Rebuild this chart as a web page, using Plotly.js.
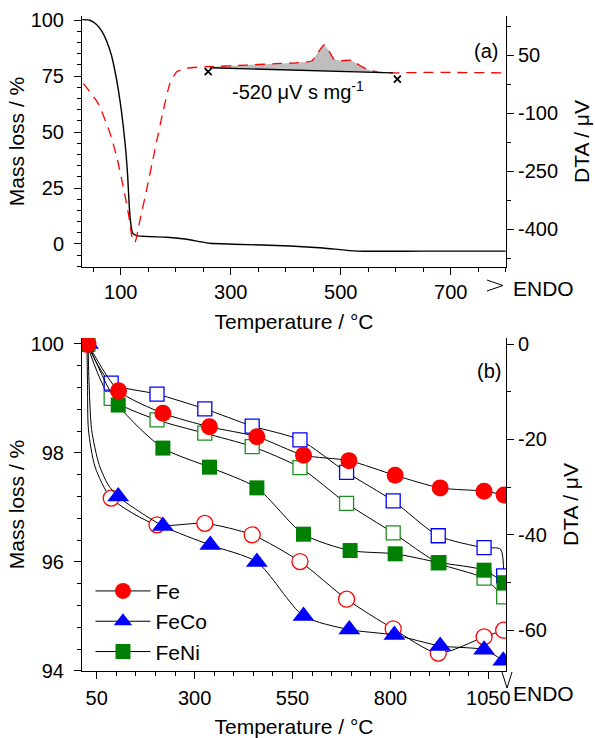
<!DOCTYPE html>
<html>
<head>
<meta charset="utf-8">
<script src="https://cdn.plot.ly/plotly-3.0.1.min.js"></script>
<style>html,body{margin:0;padding:0;background:#fff;}#chart{width:595px;height:738px;}</style>
</head>
<body>
<div id="chart"></div>
<script>
// ---------- Panel (a): TG / DTA ----------
const tgT    = [30, 44, 56, 65.5, 74.5, 83.6, 89.6, 95.6, 101.8, 106, 109.6, 112.7, 115.6, 118.2, 121.8, 129, 183.6, 220, 244, 262, 305, 408, 468, 530, 650, 800];
const tgMass = [100.3, 100, 98.1, 95.1, 90.6, 83.9, 77.2, 69, 58.5, 49.5, 40.6, 30.1, 16.7, 9.3, 4.8, 3.7, 3.0, 2.1, 1.0, 0.3, -0.1, -0.9, -1.8, -3.2, -3.2, -3.2];

const dtaT   = [32, 59, 80.5, 92.7, 104.7, 113.8, 121.8, 126, 135, 147, 162, 177.5, 189.6, 201.8, 220, 256, 263, 329, 390, 420, 447, 457.5, 469.6, 477.5, 487.8, 498.7, 517, 529, 538, 553, 571, 595, 650, 700, 800];
const dtaVal = [-23, -75, -152, -213, -291, -359, -428, -434, -377, -299, -196, -92, -23, 7, 16, 20, 20, 24, 28.5, 30, 34.5, 54, 76, 63, 39, 35, 37, 28.5, 20, 11, 5, 4, 5, 5, 4];

const baseT   = [263, 595];     // integration baseline
const baseDTA = [17, 4];
const crossT   = [259, 603];    // integration limits
const crossDTA = [7, -12];

const dtaTopTicks = [50, -100, -250, -400];

// ---------- Panel (b): mass loss (filled) and DTA (open) ----------
const feT      = [28, 106, 219, 338, 459, 578, 694, 812, 927, 1039, 1090];
const feMass   = [100, 99.14, 98.73, 98.48, 98.30, 97.96, 97.86, 97.59, 97.36, 97.30, 97.23];
const feCoT    = [28, 105, 219, 340, 459, 578, 695, 810, 927, 1039, 1088];
const feCoMass = [100, 97.20, 96.66, 96.31, 96.00, 95.01, 94.76, 94.66, 94.46, 94.39, 94.19];
const feNiT    = [28, 105, 219, 338, 459, 578, 697, 812, 924, 1039, 1090];
const feNiMass = [100, 98.88, 98.09, 97.74, 97.36, 96.51, 96.21, 96.15, 95.99, 95.85, 95.62];

const dtaBT    = [25, 87, 204, 326, 447, 569, 688, 807, 922, 1039, 1089];
const feDTA    = [0, -32.3, -37.9, -37.6, -40.0, -45.6, -53.5, -59.7, -64.8, -61.4, -60.0];
const feCoDTA  = [0, -8.2, -10.5, -13.6, -17.2, -20.1, -26.9, -32.9, -40.2, -42.7, -48.6];
const feNiDTA  = [0, -11.4, -15.9, -18.7, -21.5, -25.9, -33.4, -39.6, -45.9, -49.1, -53.0];

// extra points (steep start, sharp end)
const feCoMassStartT = [30, 37, 56, 79];
const feCoMassStartV = [99.4, 98.43, 97.79, 97.42];
const feDTAStartT    = [26.5, 29, 46];
const feDTAStartV    = [-7.5, -18, -25.8];
const feCoDTAEndT    = [1081];
const feCoDTAEndV    = [-43.0];

const dtaBTicks = [0, -20, -40, -60];

const legendNames = ['Fe', 'FeCo', 'FeNi'];

// ---------- helpers ----------
const FONT = '"Liberation Sans", Arial, Helvetica, sans-serif';
const RED = '#ff0000', BLUE = '#0000ff', GREEN = '#008000';
const TICK_SIZE = 20, TITLE_SIZE = 21;

function insertAfterFirst(arr, extra) { return [arr[0]].concat(extra, arr.slice(1)); }
function insertBeforeLast(arr, extra) { return arr.slice(0, -1).concat(extra, arr.slice(-1)); }

// gray integrated area: DTA curve between the limits, closed along the baseline
const fillX = [], fillY = [];
dtaT.forEach((t, i) => { if (t >= baseT[0] && t <= baseT[1]) { fillX.push(t); fillY.push(dtaVal[i]); } });
const fillXs = fillX.concat(baseT.slice().reverse());
const fillYs = fillY.concat(baseDTA.slice().reverse());

const curveLine = {color: 'black', width: 1, shape: 'spline', smoothing: 0.7};

const traces = [
  // panel (a)
  {x: tgT, y: tgMass, xaxis: 'x', yaxis: 'y', mode: 'lines', line: {color: 'black', width: 1.4, shape: 'spline', smoothing: 0.6}, showlegend: false, hoverinfo: 'skip'},
  {x: fillXs, y: fillYs, xaxis: 'x', yaxis: 'y2', mode: 'lines', fill: 'toself', fillcolor: '#bebebe', line: {width: 0}, showlegend: false, hoverinfo: 'skip'},
  {x: dtaT, y: dtaVal, xaxis: 'x', yaxis: 'y2', mode: 'lines', line: {color: RED, width: 1.3, dash: '10px,7px', shape: 'spline', smoothing: 0.5}, showlegend: false, hoverinfo: 'skip'},
  {x: baseT, y: baseDTA, xaxis: 'x', yaxis: 'y2', mode: 'lines', line: {color: 'black', width: 1.4}, showlegend: false, hoverinfo: 'skip'},
  {x: crossT, y: crossDTA, xaxis: 'x', yaxis: 'y2', mode: 'markers', marker: {symbol: 'x-thin', size: 7, line: {color: 'black', width: 1.8}}, showlegend: false, hoverinfo: 'skip'},

  // panel (b) DTA curves (right axis, y3)
  {x: insertAfterFirst(dtaBT, feDTAStartT), y: insertAfterFirst(feDTA, feDTAStartV), xaxis: 'x2', yaxis: 'y3', mode: 'lines', line: curveLine, showlegend: false, hoverinfo: 'skip'},
  {x: insertBeforeLast(dtaBT, feCoDTAEndT), y: insertBeforeLast(feCoDTA, feCoDTAEndV), xaxis: 'x2', yaxis: 'y3', mode: 'lines', line: curveLine, showlegend: false, hoverinfo: 'skip'},
  {x: dtaBT, y: feNiDTA, xaxis: 'x2', yaxis: 'y3', mode: 'lines', line: curveLine, showlegend: false, hoverinfo: 'skip'},
  {x: dtaBT, y: feNiDTA, xaxis: 'x2', yaxis: 'y3', mode: 'markers', marker: {symbol: 'square', size: 14, color: 'white', line: {color: '#1f8f1f', width: 1.3}}, showlegend: false},
  {x: dtaBT, y: feCoDTA, xaxis: 'x2', yaxis: 'y3', mode: 'markers', marker: {symbol: 'square', size: 14, color: 'white', line: {color: BLUE, width: 1.3}}, showlegend: false},
  {x: dtaBT, y: feDTA, xaxis: 'x2', yaxis: 'y3', mode: 'markers', marker: {symbol: 'circle', size: 16, color: 'white', line: {color: RED, width: 1.3}}, showlegend: false},

  // panel (b) mass curves (left axis, y4 overlaying)
  {x: feNiT, y: feNiMass, xaxis: 'x2', yaxis: 'y4', mode: 'lines', line: curveLine, showlegend: false, hoverinfo: 'skip'},
  {x: insertAfterFirst(feCoT, feCoMassStartT), y: insertAfterFirst(feCoMass, feCoMassStartV), xaxis: 'x2', yaxis: 'y4', mode: 'lines', line: curveLine, showlegend: false, hoverinfo: 'skip'},
  {x: feT, y: feMass, xaxis: 'x2', yaxis: 'y4', mode: 'lines', line: curveLine, showlegend: false, hoverinfo: 'skip'},
  {x: feNiT, y: feNiMass, xaxis: 'x2', yaxis: 'y4', mode: 'markers', marker: {symbol: 'square', size: 15, color: GREEN}, showlegend: false},
  {x: feCoT, y: feCoMass, xaxis: 'x2', yaxis: 'y4', mode: 'markers', marker: {symbol: 'triangle-up', size: 19, color: BLUE}, showlegend: false},
  {x: feT, y: feMass, xaxis: 'x2', yaxis: 'y4', mode: 'markers', marker: {symbol: 'circle', size: 17, color: RED}, showlegend: false},

  // legend entries
  {x: [null], y: [null], xaxis: 'x2', yaxis: 'y4', name: legendNames[0], mode: 'lines+markers', line: {color: 'black', width: 1}, marker: {symbol: 'circle', size: 17, color: RED}},
  {x: [null], y: [null], xaxis: 'x2', yaxis: 'y4', name: legendNames[1], mode: 'lines+markers', line: {color: 'black', width: 1}, marker: {symbol: 'triangle-up', size: 19, color: BLUE}},
  {x: [null], y: [null], xaxis: 'x2', yaxis: 'y4', name: legendNames[2], mode: 'lines+markers', line: {color: 'black', width: 1}, marker: {symbol: 'square', size: 15, color: GREEN}}
];

const axBase = {
  showline: true, linecolor: 'black', linewidth: 1, showgrid: false, zeroline: false,
  ticks: 'outside', ticklen: 7, tickwidth: 1, tickcolor: 'black',
  tickfont: {family: FONT, size: TICK_SIZE, color: 'black'}
};
function minor(d, t0) { const m = {dtick: d, ticks: 'outside', ticklen: 4, tickwidth: 1, tickcolor: 'black', showgrid: false}; if (t0 !== undefined) m.tick0 = t0; return m; }
function ttl(t, s) { return {text: t, font: {family: FONT, size: TITLE_SIZE, color: 'black'}, standoff: s}; }
const topTicks = {showline: true, linecolor: 'black', linewidth: 1, showgrid: false, zeroline: false, ticks: 'inside', ticklen: 4, tickcolor: 'black', tick0: 0, dtick: 50, showticklabels: false};

const TOPX = [29.6, 800.5], BOTX = [12.5, 1095];
const layout = {
  width: 595, height: 738,
  margin: {l: 82, r: 89, t: 16, b: 67},
  paper_bgcolor: 'white', plot_bgcolor: 'white',
  font: {family: FONT, size: TICK_SIZE, color: 'black'},
  showlegend: true,
  legend: {x: 0.02, y: 0.153, xanchor: 'left', yanchor: 'top', bgcolor: 'rgba(0,0,0,0)', font: {family: FONT, size: 21, color: 'black'}, itemwidth: 55, tracegroupgap: 0},
  xaxis: Object.assign({}, axBase, {domain: [0, 1], anchor: 'y', range: TOPX, tick0: 100, dtick: 200, minor: minor(50), title: ttl('Temperature / °C', 12)}),
  yaxis: Object.assign({}, axBase, {domain: [0.6168, 1], anchor: 'x', range: [-10.3, 101.9], tick0: 0, dtick: 25, minor: minor(5), ticklabelstandoff: 6, title: ttl('Mass loss / %', 0)}),
  yaxis2: Object.assign({}, axBase, {overlaying: 'y', side: 'right', anchor: 'x', range: [-498, 151], tickmode: 'array', tickvals: dtaTopTicks, ticktext: dtaTopTicks.map(String), minor: {tickmode: 'linear', tick0: 50, dtick: 75, ticks: 'outside', ticklen: 4, tickcolor: 'black'}, title: ttl('DTA / μV', 17)}),
  xaxis3: Object.assign({}, topTicks, {overlaying: 'x', anchor: 'y', side: 'top', range: TOPX}),
  xaxis2: Object.assign({}, axBase, {domain: [0, 1], anchor: 'y3', range: BOTX, tick0: 50, dtick: 250, minor: minor(50), ticklabelstandoff: 2, title: ttl('Temperature / °C', 17)}),
  yaxis3: Object.assign({}, axBase, {domain: [0, 0.5084], anchor: 'x2', side: 'right', range: [-68.55, 1.26], tickmode: 'array', tickvals: dtaBTicks, ticktext: dtaBTicks.map(String), minor: {tickmode: 'linear', tick0: 0, dtick: 10, ticks: 'outside', ticklen: 4, tickcolor: 'black'}, title: ttl('DTA / μV', 17)}),
  yaxis4: Object.assign({}, axBase, {overlaying: 'y3', side: 'left', anchor: 'x2', range: [94, 100.11], tick0: 0, dtick: 2, minor: minor(0.4), ticklabelstandoff: 6, title: ttl('Mass loss / %', 0)}),
  xaxis4: Object.assign({}, topTicks, {overlaying: 'x2', anchor: 'y3', side: 'top', range: BOTX}),
  annotations: [
    {xref: 'paper', yref: 'paper', x: 0.9517, y: 0.9473, text: '(a)', showarrow: false, xanchor: 'center', yanchor: 'middle', font: {family: FONT, size: 20}},
    {xref: 'paper', yref: 'paper', x: 0.9599, y: 0.4573, text: '(b)', showarrow: false, xanchor: 'center', yanchor: 'middle', font: {family: FONT, size: 20}},
    {xref: 'paper', yref: 'paper', x: 0.5106, y: 0.887, text: '-520 μV s mg<sup>-1</sup>', showarrow: false, xanchor: 'center', yanchor: 'middle', font: {family: FONT, size: 20}},
    {xref: 'paper', yref: 'paper', x: 1.0884, y: 0.584, text: 'ENDO', showarrow: false, xanchor: 'center', yanchor: 'middle', font: {family: FONT, size: 21}},
    {xref: 'paper', yref: 'paper', x: 1.0896, y: -0.0344, text: 'ENDO', showarrow: false, xanchor: 'center', yanchor: 'middle', font: {family: FONT, size: 21}}
  ],
  shapes: [
    {type: 'path', xref: 'paper', yref: 'paper', path: 'M0.9552,0.5969 L0.9929,0.5885 L0.9552,0.5802', line: {color: 'black', width: 1}},
    {type: 'path', xref: 'paper', yref: 'paper', path: 'M0.9906,-0.0015 L1.0024,-0.026 L1.0142,-0.0015', line: {color: 'black', width: 1}}
  ]
};

Plotly.newPlot('chart', traces, layout, {staticPlot: true, displayModeBar: false});
</script>
</body>
</html>
